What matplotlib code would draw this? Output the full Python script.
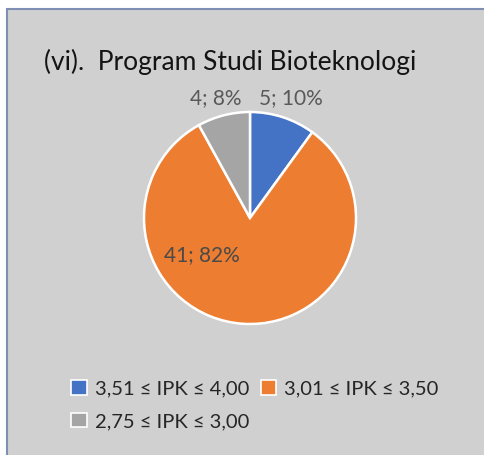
import matplotlib
matplotlib.use("Agg")
import matplotlib.pyplot as plt
from matplotlib.patches import Rectangle, Patch

# Data: IPK distribution, Program Studi Bioteknologi
categories = ["3,51 ≤ IPK ≤ 4,00", "3,01 ≤ IPK ≤ 3,50", "2,75 ≤ IPK ≤ 3,00"]
counts = [5, 41, 4]
title = "(vi).  Program Studi Bioteknologi"

colors = ["#4472C4", "#ED7D31", "#A5A5A5"]
label_xy = [(0.39, 1.13), (-0.45, -0.35), (-0.32, 1.13)]  # data-label anchor per slice (axes units)
FONT = ["Lato", "DejaVu Sans"]

W, H = 485, 455
fig = plt.figure(figsize=(W / 100, H / 100), dpi=100)
fig.patch.set_facecolor("white")

# Chart-area panel with thin border
panel = Rectangle((7 / W, -0.05), 1.2, (H - 9) / H + 0.05, transform=fig.transFigure,
                  facecolor="#D0D0D0", edgecolor="#7F8FB3", linewidth=1.5, zorder=-5)
fig.patches.append(panel)

fig.text(230 / W, 1 - 62 / H, title, ha="center", va="center",
         fontsize=19, color="#141414", family=FONT)

# Pie axes
cx, cy, r = 250, 218, 106
ax = fig.add_axes([(cx - r) / W, 1 - (cy + r) / H, 2 * r / W, 2 * r / H])
ax.set_zorder(2)
ax.pie(counts, colors=colors, startangle=90, counterclock=False,
       wedgeprops=dict(edgecolor="white", linewidth=1.8), radius=1.0)
ax.set_xlim(-1, 1)
ax.set_ylim(-1, 1)
ax.set_aspect("equal")
ax.axis("off")
ax.patch.set_visible(False)

total = sum(counts)
label_colors = ["#595959", "#4a4a4a", "#595959"]
for v, (lx, ly), lc in zip(counts, label_xy, label_colors):
    ax.text(lx, ly, f"{v}; {round(100 * v / total)}%", ha="center", va="center",
            fontsize=15, color=lc, family=FONT, clip_on=False)

# Legend laid out row-wise: blue, orange / gray
handles = [Patch(facecolor=c, edgecolor="white", linewidth=1.2) for c in colors]
order = [0, 2, 1]
leg = fig.legend([handles[i] for i in order], [categories[i] for i in order],
                 ncol=2, loc="center", bbox_to_anchor=(255 / W, 1 - 405 / H),
                 frameon=False, prop=dict(family=FONT, size=14.5),
                 handlelength=0.75, handleheight=0.75, handletextpad=0.4,
                 columnspacing=0.6, labelspacing=0.75)
for t in leg.get_texts():
    t.set_color("#262626")

fig.savefig("out.png", dpi=100, facecolor="white")
